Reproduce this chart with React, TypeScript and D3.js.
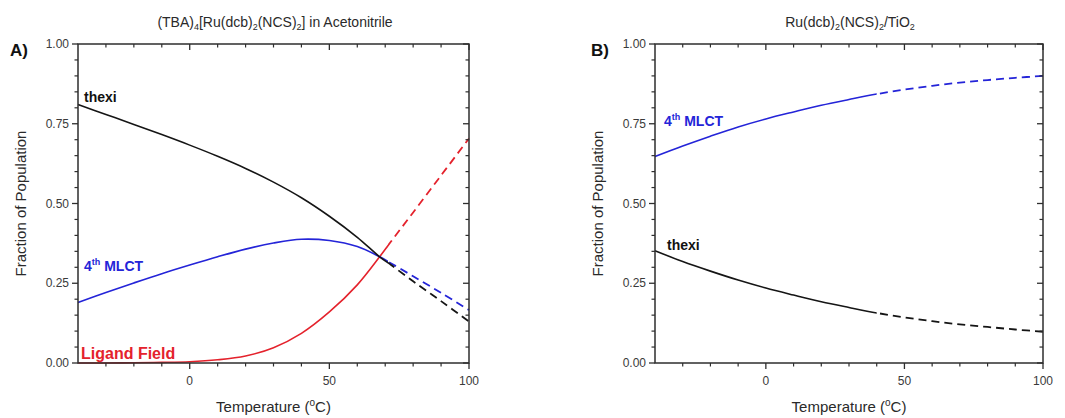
import React from "react";
import * as d3 from "d3";

// ---- Data ----
const tempsA = [-40, -30, -20, -10, 0, 10, 20, 30, 40, 50, 60, 68, 72, 80, 90, 100];
const thexiA = [0.81, 0.779, 0.748, 0.716, 0.683, 0.648, 0.61, 0.567, 0.518, 0.46, 0.394, 0.333, 0.308, 0.256, 0.194, 0.13];
const mlctA = [0.19, 0.221, 0.251, 0.28, 0.307, 0.333, 0.357, 0.376, 0.388, 0.384, 0.365, 0.333, 0.313, 0.272, 0.22, 0.166];
const ligandA = [0, 0, 0.001, 0.002, 0.004, 0.01, 0.022, 0.048, 0.093, 0.16, 0.245, 0.333, 0.38, 0.472, 0.588, 0.704];
const breakA = 71;

const tempsB = [-40, -30, -20, -10, 0, 10, 20, 30, 40, 50, 60, 70, 80, 90, 100];
const mlctB = [0.647, 0.68, 0.711, 0.74, 0.765, 0.787, 0.808, 0.826, 0.843, 0.857, 0.869, 0.879, 0.887, 0.894, 0.9];
const thexiB = [0.352, 0.318, 0.288, 0.26, 0.235, 0.213, 0.192, 0.174, 0.157, 0.143, 0.131, 0.121, 0.113, 0.105, 0.098];
const breakB = 40;

const xMajor = [0, 50, 100];
const xMinor = [-30, -20, -10, 10, 20, 30, 40, 60, 70, 80, 90];
const yMajor = [0, 0.25, 0.5, 0.75, 1];
const yMinor = d3.range(0.05, 1, 0.05).filter((v) => Math.abs(v * 4 - Math.round(v * 4)) > 1e-6);

const FONT = "'Liberation Sans', Arial, Helvetica, sans-serif";
const BLACK = "#151515";
const BLUE = "#2424d8";
const RED = "#e4222c";
const AXIS = "#2e2e2e";

type Series = { values: number[]; color: string };

function Panel(props: {
  id: string;
  left: number;
  right: number;
  temps: number[];
  series: Series[];
  brk: number;
  children?: React.ReactNode;
}) {
  const { id, left, right, temps, series, brk } = props;
  const top = 44;
  const bottom = 363;
  const x = d3.scaleLinear().domain([-40, 100]).range([left, right]);
  const y = d3.scaleLinear().domain([0, 1]).range([bottom, top]);
  const line = d3
    .line<[number, number]>()
    .x((d) => x(d[0]))
    .y((d) => y(d[1]))
    .curve(d3.curveCatmullRom.alpha(0.5));
  const fmt = d3.format(".2f");
  const tickColor = AXIS;
  const xb = x(brk);
  return (
    <g>
      <defs>
        <clipPath id={id + "-solid"}>
          <rect x={left - 5} y={0} width={xb - left + 5} height={418} />
        </clipPath>
        <clipPath id={id + "-dash"}>
          <rect x={xb} y={0} width={right - xb + 5} height={418} />
        </clipPath>
      </defs>
      {series.map((s, i) => {
        const pts = temps.map((t, j) => [t, s.values[j]] as [number, number]);
        const d = line(pts) || "";
        return (
          <g key={i}>
            <path d={d} fill="none" stroke={s.color} strokeWidth={1.6} clipPath={`url(#${id}-solid)`} />
            <path
              d={d}
              fill="none"
              stroke={s.color}
              strokeWidth={1.8}
              strokeDasharray="8,5"
              clipPath={`url(#${id}-dash)`}
            />
          </g>
        );
      })}
      <rect x={left} y={top} width={right - left} height={bottom - top} fill="none" stroke={AXIS} strokeWidth={1.5} />
      {xMajor.map((v) => (
        <g key={"xM" + v}>
          <line x1={x(v)} x2={x(v)} y1={bottom} y2={bottom + 6} stroke={tickColor} strokeWidth={1.3} />
          <line x1={x(v)} x2={x(v)} y1={top} y2={top + 6} stroke={tickColor} strokeWidth={1.3} />
          <text x={x(v)} y={bottom + 22} textAnchor="middle" fontSize={12} fill="#3a3a3a" fontFamily={FONT}>
            {v}
          </text>
        </g>
      ))}
      {xMinor.map((v) => (
        <g key={"xm" + v}>
          <line x1={x(v)} x2={x(v)} y1={bottom} y2={bottom + 3.5} stroke={tickColor} strokeWidth={1.2} />
          <line x1={x(v)} x2={x(v)} y1={top} y2={top + 3.5} stroke={tickColor} strokeWidth={1.2} />
        </g>
      ))}
      {yMajor.map((v) => (
        <g key={"yM" + v}>
          <line x1={left - 6} x2={left} y1={y(v)} y2={y(v)} stroke={tickColor} strokeWidth={1.3} />
          <line x1={right - 6} x2={right} y1={y(v)} y2={y(v)} stroke={tickColor} strokeWidth={1.3} />
          <text x={left - 9} y={y(v) + 4} textAnchor="end" fontSize={12} fill="#3a3a3a" fontFamily={FONT}>
            {fmt(v)}
          </text>
        </g>
      ))}
      {yMinor.map((v) => (
        <g key={"ym" + v}>
          <line x1={left - 3.5} x2={left} y1={y(v)} y2={y(v)} stroke={tickColor} strokeWidth={1.2} />
          <line x1={right - 3.5} x2={right} y1={y(v)} y2={y(v)} stroke={tickColor} strokeWidth={1.2} />
        </g>
      ))}
      <text x={(left + right) / 2} y={412} textAnchor="middle" fontSize={15} fill="#2a2a2a" fontFamily={FONT}>
        Temperature (
        <tspan fontSize={10} dy={-6}>o</tspan>
        <tspan dy={6}>C)</tspan>
      </text>
      <text
        transform={`translate(${left - 52},${(top + bottom) / 2}) rotate(-90)`}
        textAnchor="middle"
        fontSize={15}
        fill="#2a2a2a"
        fontFamily={FONT}
      >
        Fraction of Population
      </text>
      {props.children}
    </g>
  );
}

export default function App() {
  return (
    <svg
      width={1065}
      height={418}
      style={{ position: "absolute", left: 0, top: 0, background: "#fff" }}
      fontFamily={FONT}
    >
      <rect width={1065} height={418} fill="#fff" />
      <Panel
        id="pa"
        left={78}
        right={469}
        temps={tempsA}
        brk={breakA}
        series={[
          { values: ligandA, color: RED },
          { values: mlctA, color: BLUE },
          { values: thexiA, color: BLACK },
        ]}
      >
        <text x={275} y={27} textAnchor="middle" fontSize={14} fill="#2a2a2a">
          (TBA)<tspan fontSize={9} dy={3}>4</tspan>
          <tspan dy={-3}>[Ru(dcb)</tspan>
          <tspan fontSize={9} dy={3}>2</tspan>
          <tspan dy={-3}>(NCS)</tspan>
          <tspan fontSize={9} dy={3}>2</tspan>
          <tspan dy={-3}>] in Acetonitrile</tspan>
        </text>
        <text x={10} y={56} fontSize={17} fontWeight="bold" fill="#111">A)</text>
        <text x={84} y={102} fontSize={14} fontWeight="bold" fill="#111">thexi</text>
        <text x={84} y={271} fontSize={14} fontWeight="bold" fill={BLUE}>
          4<tspan fontSize={9} dy={-6}>th</tspan>
          <tspan dy={6}> MLCT</tspan>
        </text>
        <text x={81} y={359} fontSize={16} fontWeight="bold" fill={RED}>Ligand Field</text>
      </Panel>
      <Panel
        id="pb"
        left={655}
        right={1043}
        temps={tempsB}
        brk={breakB}
        series={[
          { values: mlctB, color: BLUE },
          { values: thexiB, color: BLACK },
        ]}
      >
        <text x={850} y={27} textAnchor="middle" fontSize={14} fill="#2a2a2a">
          Ru(dcb)<tspan fontSize={9} dy={3}>2</tspan>
          <tspan dy={-3}>(NCS)</tspan>
          <tspan fontSize={9} dy={3}>2</tspan>
          <tspan dy={-3}>/TiO</tspan>
          <tspan fontSize={9} dy={3}>2</tspan>
        </text>
        <text x={591} y={56} fontSize={17} fontWeight="bold" fill="#111">B)</text>
        <text x={664} y={126} fontSize={14} fontWeight="bold" fill={BLUE}>
          4<tspan fontSize={9} dy={-6}>th</tspan>
          <tspan dy={6}> MLCT</tspan>
        </text>
        <text x={667} y={250} fontSize={14} fontWeight="bold" fill="#111">thexi</text>
      </Panel>
    </svg>
  );
}
